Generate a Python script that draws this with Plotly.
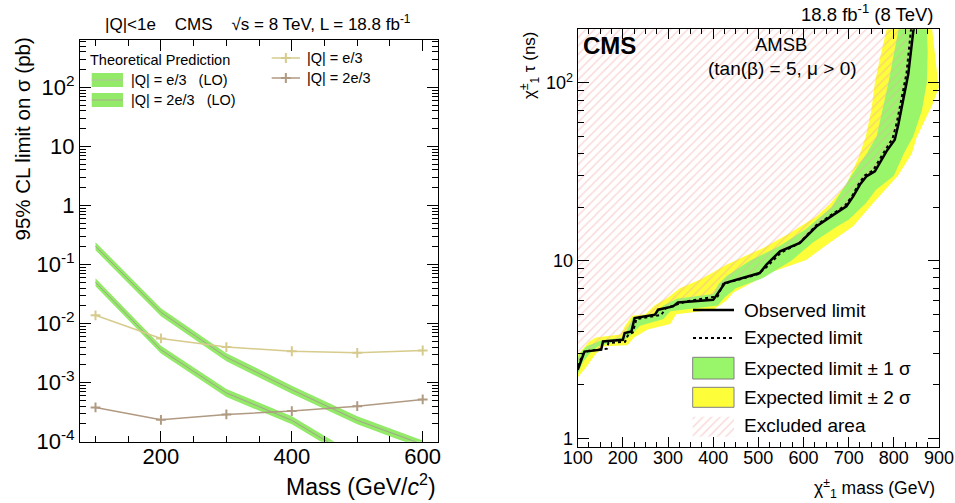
import plotly.graph_objects as go

# ---------------- Left panel data ----------------
mass_pts = [100, 200, 300, 400, 500, 600]
lim_e3 = [0.0138, 0.0056, 0.0040, 0.0034, 0.0032, 0.0035]
lim_2e3 = [3.8e-4, 2.35e-4, 2.9e-4, 3.3e-4, 4.0e-4, 5.2e-4]

theo_mass_2e3 = [100, 200, 300, 400, 500, 600]
theo_2e3 = [0.204, 0.0155, 0.0027, 7.6e-4, 2.3e-4, 9.0e-5]
theo_2e3_up = [0.239, 0.0181, 0.00316, 8.9e-4, 2.69e-4, 1.05e-4]
theo_2e3_dn = [0.174, 0.0133, 0.00231, 6.5e-4, 1.97e-4, 7.7e-5]

theo_mass_e3 = [100, 200, 300, 400, 500]
theo_e3 = [0.050, 0.0036, 6.7e-4, 2.3e-4, 5.0e-5]
theo_e3_up = [0.0585, 0.0042, 7.8e-4, 2.69e-4, 5.85e-5]
theo_e3_dn = [0.0428, 0.0031, 5.7e-4, 1.97e-4, 4.3e-5]

# ---------------- Right panel data ----------------
obs_mass = [100, 115, 152, 156, 200, 204, 219, 226, 271, 278, 311, 322, 400, 403, 426, 503, 518,
            548, 592, 614, 629, 666, 695, 710, 725, 740, 758, 784, 802, 810, 825, 832, 843, 845]
obs_tau = [2.43, 3.08, 3.16, 3.51, 3.59, 3.92, 4.0, 4.76, 4.97, 5.3, 5.53, 5.82, 6.03, 6.16, 7.48, 8.52, 9.5,
           11.3, 12.6, 14.3, 15.6, 18.1, 20.2, 23.0, 26.8, 29.9, 31.8, 41.3, 47.9, 58.3, 89.9, 112, 195, 205]

exp_mass = [100, 112, 125, 165, 168, 205, 212, 222, 230, 285, 295, 340, 390, 410, 422, 500, 520,
            550, 590, 612, 628, 664, 692, 708, 722, 736, 754, 780, 797, 806, 820, 828, 838, 840]
exp_tau = [2.55, 3.0, 3.12, 3.2, 3.45, 3.5, 3.85, 3.95, 4.7, 4.95, 5.4, 5.9, 6.2, 6.3, 7.4, 8.4, 9.3,
           11.1, 12.5, 14.4, 15.8, 18.3, 20.4, 23.2, 27.0, 30.2, 32.2, 41.5, 48.5, 59.0, 90.0, 113, 200, 205]

y2l_mass = [80, 100, 125, 140, 195, 205, 220, 250, 270, 300, 326, 370, 400, 429, 470, 511, 570,
            629, 660, 695, 722, 738, 750, 758, 770, 784, 786]
y2l_tau = [2.5, 2.95, 3.5, 3.7, 3.85, 4.3, 4.9, 5.0, 5.6, 6.2, 7.0, 7.8, 8.6, 9.5, 10.6, 11.8, 14.3,
           17.8, 21, 27, 38, 50, 70, 100, 140, 200, 210]

g1l_mass = [90, 104, 120, 150, 200, 212, 222, 270, 290, 320, 400, 412, 430, 481, 545, 605, 662,
            706, 740, 762, 788, 810, 812]
g1l_tau = [2.5, 3.0, 3.3, 3.55, 3.7, 4.2, 4.8, 5.05, 5.6, 6.1, 6.5, 7.4, 8.2, 10, 12, 15, 20,
           30, 40, 50, 100, 200, 210]

g1r_mass = [100, 112, 126, 145, 175, 205, 222, 238, 290, 305, 410, 425, 450, 510, 573, 620, 675,
            700, 738, 760, 800, 822, 843, 862, 873, 875, 873, 873]
g1r_tau = [2.3, 2.7, 3.0, 3.3, 3.45, 3.6, 3.9, 4.3, 4.7, 5.2, 5.6, 6.2, 7.0, 8.0, 10, 12.6, 15.6,
           17, 21, 25, 30, 40, 50, 70, 100, 150, 200, 210]

y2r_mass = [100, 118, 140, 160, 210, 225, 255, 305, 318, 400, 430, 444, 533, 606, 658, 710, 754,
            780, 809, 840, 850, 885, 900, 898, 890, 884, 884]
y2r_tau = [2.2, 2.5, 3.0, 3.3, 3.35, 3.7, 4.1, 4.4, 5.0, 5.3, 6.0, 6.6, 8.7, 10.1, 12.6, 15.6, 21,
           25, 30, 40, 49, 75, 95, 100, 150, 200, 210]

MASS_MIN_R = 100
TAU_TOP = 400

FONT = "Liberation Sans, Arial, Helvetica, sans-serif"
GREEN_TH = "#92ea68"
GREEN_1S = "#99f56a"
YELLOW_2S = "#fdfd3a"
KHAKI = "#d6cb8c"
BROWN = "#b09a82"
HATCH = dict(shape="/", fgcolor="#f5aaaa", bgcolor="rgba(0,0,0,0)", size=6, solidity=0.22)

W, H = 955, 503

fig = go.Figure()

# ---- left panel theory bands ----
for m, dn, up, c in [
    (theo_mass_e3, theo_e3_dn, theo_e3_up, theo_e3),
    (theo_mass_2e3, theo_2e3_dn, theo_2e3_up, theo_2e3),
]:
    fig.add_trace(go.Scatter(x=m, y=dn, mode="lines", line=dict(width=0, color=GREEN_TH),
                             showlegend=False, hoverinfo="skip", xaxis="x", yaxis="y"))
    fig.add_trace(go.Scatter(x=m, y=up, mode="lines", line=dict(width=0, color=GREEN_TH),
                             fill="tonexty", fillcolor=GREEN_TH, showlegend=False,
                             xaxis="x", yaxis="y"))
    fig.add_trace(go.Scatter(x=m, y=c, mode="lines", line=dict(width=1, color="#a8a090"),
                             showlegend=False, hoverinfo="skip", xaxis="x", yaxis="y"))

fig.add_trace(go.Scatter(x=mass_pts, y=lim_e3, mode="lines+markers", showlegend=False,
                         line=dict(color=KHAKI, width=1.5),
                         marker=dict(symbol="cross-thin", size=7, line=dict(color=KHAKI, width=2)),
                         xaxis="x", yaxis="y"))
fig.add_trace(go.Scatter(x=mass_pts, y=lim_2e3, mode="lines+markers", showlegend=False,
                         line=dict(color=BROWN, width=1.5),
                         marker=dict(symbol="cross-thin", size=7, line=dict(color=BROWN, width=2)),
                         xaxis="x", yaxis="y"))

# ---- right panel bands ----
fig.add_trace(go.Scatter(x=y2l_mass, y=y2l_tau, mode="lines", line=dict(width=0, color=YELLOW_2S),
                         showlegend=False, hoverinfo="skip", xaxis="x2", yaxis="y2"))
fig.add_trace(go.Scatter(x=y2r_mass, y=y2r_tau, mode="lines", line=dict(width=0, color=YELLOW_2S),
                         fill="tonextx", fillcolor=YELLOW_2S, showlegend=False, xaxis="x2", yaxis="y2"))
fig.add_trace(go.Scatter(x=g1l_mass, y=g1l_tau, mode="lines", line=dict(width=0, color=GREEN_1S),
                         showlegend=False, hoverinfo="skip", xaxis="x2", yaxis="y2"))
fig.add_trace(go.Scatter(x=g1r_mass, y=g1r_tau, mode="lines", line=dict(width=0, color=GREEN_1S),
                         fill="tonextx", fillcolor=GREEN_1S, showlegend=False, xaxis="x2", yaxis="y2"))

# excluded (hatched) area above the observed limit
hx = obs_mass + [obs_mass[-1], MASS_MIN_R - 50]
hy = obs_tau + [TAU_TOP, TAU_TOP]
fig.add_trace(go.Scatter(x=hx, y=hy, mode="lines", line=dict(width=0, color="#f2a0a0"),
                         fill="toself", fillcolor="rgba(0,0,0,0)", fillpattern=HATCH,
                         showlegend=False, xaxis="x2", yaxis="y2"))

fig.add_trace(go.Scatter(x=exp_mass, y=exp_tau, mode="lines", line=dict(color="black", width=2, dash="dot"),
                         showlegend=False, xaxis="x2", yaxis="y2"))
fig.add_trace(go.Scatter(x=obs_mass, y=obs_tau, mode="lines", line=dict(color="black", width=2.5),
                         showlegend=False, xaxis="x2", yaxis="y2"))

# ---------------- legend keys (drawn on a full-figure pixel overlay) ----------------


def key_box(x0, x1, y0, y1, color, border=None, pattern=None):
    fig.add_trace(go.Scatter(x=[x0, x1, x1, x0, x0], y=[y0, y0, y1, y1, y0], mode="lines",
                             line=dict(width=1 if border else 0, color=border or color),
                             fill="toself", fillcolor=color if pattern is None else "rgba(0,0,0,0)",
                             fillpattern=pattern, showlegend=False, hoverinfo="skip",
                             xaxis="x3", yaxis="y3"))


def key_line(x0, x1, y, color, width, dash="solid", marker=False):
    fig.add_trace(go.Scatter(x=[x0, x1], y=[y, y], mode="lines", line=dict(color=color, width=width, dash=dash),
                             showlegend=False, hoverinfo="skip", xaxis="x3", yaxis="y3"))
    if marker:
        fig.add_trace(go.Scatter(x=[(x0 + x1) / 2], y=[y], mode="markers",
                                 marker=dict(symbol="cross-thin", size=7, line=dict(color=color, width=2)),
                                 showlegend=False, hoverinfo="skip", xaxis="x3", yaxis="y3"))


# left legend
key_box(91.7, 123, 73, 87, GREEN_TH)
key_line(91.7, 123, 80, "#b8c0a0", 1)
key_box(91.7, 123, 93, 107, GREEN_TH)
key_line(91.7, 123, 100, "#b0a890", 1)
key_line(271.7, 300, 58, KHAKI, 1.5, marker=True)
key_line(271.7, 300, 78, BROWN, 1.5, marker=True)
# right legend
key_line(693, 734, 310, "black", 2.5)
key_line(693, 734, 338, "black", 2, dash="dot")
key_box(692.7, 734, 357.3, 379, GREEN_1S, border="#808080")
key_box(692.7, 734, 387.3, 407.3, YELLOW_2S, border="#808080")
key_box(692.7, 734, 416.7, 436.7, "rgba(0,0,0,0)", pattern=HATCH)

# ---------------- axes ----------------


def px_x(p):
    return p / W


def px_y(p):
    return (H - p) / H


left_minor_y = [k * 10 ** e for e in range(-4, 3) for k in range(2, 10) if k * 10 ** e < 650]
right_minor_y = [k * 10 ** e for e in range(0, 3) for k in range(2, 10) if k * 10 ** e < 201]

axis_common = dict(showline=True, linecolor="black", linewidth=1, mirror="allticks", ticks="inside",
                   tickcolor="black", showgrid=False, zeroline=False, automargin=False)

fig.update_layout(
    width=W, height=H, autosize=False,
    margin=dict(l=0, r=0, t=0, b=0),
    paper_bgcolor="white", plot_bgcolor="rgba(0,0,0,0)",
    font=dict(family=FONT, color="black"),
    showlegend=False,
    xaxis=dict(domain=[px_x(80), px_x(438)], range=[76.3, 623.4], anchor="y",
               tickvals=[200, 400, 600], ticklen=11, tickfont=dict(size=22), ticklabelstandoff=-5,
               minor=dict(tickvals=[100, 150, 250, 300, 350, 450, 500, 550], ticks="inside", ticklen=6,
                          tickcolor="black", showgrid=False),
               **axis_common),
    yaxis=dict(domain=[px_y(441.7), px_y(39.5)], type="log", range=[-4, 2.81], anchor="x",
               tickvals=[1e-4, 1e-3, 1e-2, 1e-1, 1, 10, 100],
               ticktext=["10<sup>-4</sup>", "10<sup>-3</sup>", "10<sup>-2</sup>", "10<sup>-1</sup>",
                         "1", "10", "10<sup>2</sup>"],
               ticklen=11, tickfont=dict(size=22),
               minor=dict(tickvals=left_minor_y, ticks="inside", ticklen=6, tickcolor="black", showgrid=False),
               **axis_common),
    xaxis2=dict(domain=[px_x(577.7), px_x(939)], range=[100, 900], anchor="y2",
                tickvals=[100, 200, 300, 400, 500, 600, 700, 800, 900], ticklen=10, tickfont=dict(size=18),
                ticklabelstandoff=-5,
                minor=dict(tick0=100, dtick=25, ticks="inside", ticklen=5, tickcolor="black", showgrid=False),
                **axis_common),
    yaxis2=dict(domain=[px_y(446.7), px_y(29.3)], type="log", range=[-0.046, 2.301], anchor="x2",
                tickvals=[1, 10, 100], ticktext=["1", "10", "10<sup>2</sup>"], ticklen=11,
                tickfont=dict(size=18),
                minor=dict(tickvals=right_minor_y, ticks="inside", ticklen=6, tickcolor="black", showgrid=False),
                **axis_common),
    xaxis3=dict(domain=[0, 1], range=[0, W], anchor="y3", visible=False, fixedrange=True, automargin=False),
    yaxis3=dict(domain=[0, 1], range=[H, 0], anchor="x3", visible=False, fixedrange=True, automargin=False),
)

ann = [
    dict(text="|Q|&lt;1e\u00a0\u00a0\u00a0\u00a0CMS\u00a0\u00a0\u00a0\u00a0\u221as = 8 TeV, L = 18.8 fb<sup>-1</sup>",
         x=px_x(103), y=px_y(23), xanchor="left", yanchor="middle", font=dict(size=17)),
    dict(text="95% CL limit on \u03c3 (pb)", x=px_x(22), y=px_y(36), xanchor="center", yanchor="top",
         textangle=-90, font=dict(size=20.5)),
    dict(text="Mass (GeV/<i>c</i><sup>2</sup>)", x=px_x(438), y=px_y(485), xanchor="right", yanchor="middle",
         font=dict(size=23)),
    # left legend texts
    dict(text="Theoretical Prediction", x=px_x(88), y=px_y(60), xanchor="left", yanchor="middle",
         font=dict(size=14.5)),
    dict(text="|Q| = e/3\u00a0\u00a0\u00a0(LO)", x=px_x(129), y=px_y(80), xanchor="left", yanchor="middle",
         font=dict(size=14.5)),
    dict(text="|Q| = 2e/3\u00a0\u00a0\u00a0(LO)", x=px_x(129), y=px_y(100), xanchor="left", yanchor="middle",
         font=dict(size=14.5)),
    dict(text="|Q| = e/3", x=px_x(305), y=px_y(58), xanchor="left", yanchor="middle", font=dict(size=14.5)),
    dict(text="|Q| = 2e/3", x=px_x(305), y=px_y(78), xanchor="left", yanchor="middle", font=dict(size=14.5)),
    # right panel
    dict(text="18.8 fb<sup>-1</sup> (8 TeV)", x=px_x(936), y=px_y(13), xanchor="right", yanchor="middle",
         font=dict(size=18.5)),
    dict(text="<b>CMS</b>", x=px_x(581), y=px_y(45), xanchor="left", yanchor="middle", font=dict(size=24)),
    dict(text="AMSB", x=px_x(781), y=px_y(44), xanchor="center", yanchor="middle", font=dict(size=18.5)),
    dict(text="(tan(\u03b2) = 5, \u03bc &gt; 0)", x=px_x(782), y=px_y(69), xanchor="center", yanchor="middle",
         font=dict(size=19)),
    dict(text="\u03c7<sup>\u00b1</sup><sub>1</sub> \u03c4 (ns)", x=px_x(530), y=px_y(29), xanchor="center",
         yanchor="top", textangle=-90, font=dict(size=17)),
    dict(text="\u03c7<sup>\u00b1</sup><sub>1</sub> mass (GeV)", x=px_x(937), y=px_y(488), xanchor="right",
         yanchor="middle", font=dict(size=17.5)),
    # right legend texts
    dict(text="Observed limit", x=px_x(742), y=px_y(310), xanchor="left", yanchor="middle", font=dict(size=19)),
    dict(text="Expected limit", x=px_x(742), y=px_y(338), xanchor="left", yanchor="middle", font=dict(size=19)),
    dict(text="Expected limit \u00b1 1 \u03c3", x=px_x(742), y=px_y(368), xanchor="left", yanchor="middle",
         font=dict(size=19)),
    dict(text="Expected limit \u00b1 2 \u03c3", x=px_x(742), y=px_y(397), xanchor="left", yanchor="middle",
         font=dict(size=19)),
    dict(text="Excluded area", x=px_x(742), y=px_y(426), xanchor="left", yanchor="middle", font=dict(size=19)),
]
for a in ann:
    a.update(xref="paper", yref="paper", showarrow=False)
fig.update_layout(annotations=ann)

fig.write_html("out.html", config={"displayModeBar": False},
               post_script="document.body.style.margin='0';document.body.style.padding='0';"
                           "document.documentElement.style.overflow='hidden';")
